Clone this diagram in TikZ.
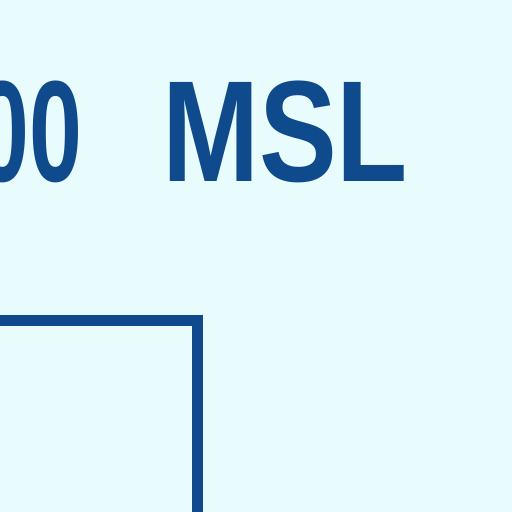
\documentclass[tikz,border=0pt]{standalone}
\usepackage{fontspec}
\setmainfont{Liberation Sans}
\definecolor{bg}{HTML}{E8FBFD}
\definecolor{ink}{HTML}{0E4A8C}
\tikzset{
  lbl/.style={inner sep=0pt, outer sep=0pt, text=ink, font=\bfseries\fontsize{144}{144}\selectfont},
  frame/.style={draw=ink, line width=11pt, line join=miter}
}
\begin{document}
\begin{tikzpicture}[x=1pt,y=1pt]
\useasboundingbox (0,0) rectangle (512,512);
\clip (0,0) rectangle (512,512);
\fill[bg] (0,0) rectangle (512,512);
\node[lbl, anchor=base east, xscale=0.66] (zeros) at (82,330) {00};
\node[lbl, anchor=base west, xscale=0.81] (msl) at (162,330) {MSL};
\coordinate (tl) at (-20,191);
\coordinate (tr) at (197,191);
\coordinate (br) at (197,-20);
\draw[frame] (tl) -- (tr) -- (br);
\end{tikzpicture}
\end{document}
